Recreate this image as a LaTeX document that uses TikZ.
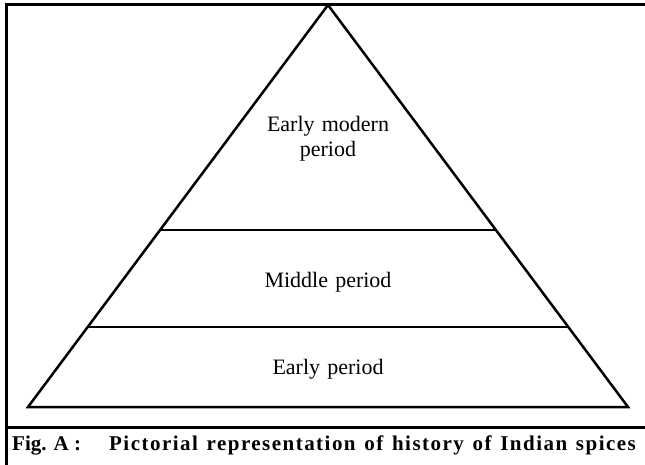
\documentclass[tikz,border=0pt]{standalone}
\usepackage{fontspec}
\setmainfont{Liberation Serif}
\newfontfamily\labelfont[WordSpace=1.3]{Liberation Serif}
\newfontfamily\capfont[LetterSpace=7,WordSpace=1.3]{Liberation Serif}
\usetikzlibrary{calc}
\usetikzlibrary{positioning}

\begin{document}
\begin{tikzpicture}[x=1pt,y=-1pt]
			\def\lw{2.5pt}

			\tikzset{line/.style={draw,line width=\lw}}
			\tikzset{frame/.style={draw,line width=3pt}}
			\tikzset{label/.style={inner sep=0pt,anchor=base,font=\labelfont\fontsize{22}{25}\selectfont,align=center}}
			\tikzset{caption/.style={inner sep=0pt,anchor=base west,font=\capfont\fontsize{21}{24}\selectfont\bfseries}}
			\tikzset{figtag/.style={inner sep=0pt,anchor=base west,font=\fontsize{21}{24}\selectfont\bfseries}}

			\useasboundingbox (0,0) rectangle (645,465);

			% pyramid corners
			\coordinate (apex) at (328,5);
			\coordinate (bl) at (28,407);
			\coordinate (br) at (628,407);

			% layer borders
			\coordinate (l1) at ($(apex)!0.5597!(bl)$);
			\coordinate (r1) at ($(apex)!0.5597!(br)$);
			\coordinate (l2) at ($(apex)!0.801!(bl)$);
			\coordinate (r2) at ($(apex)!0.801!(br)$);

			% frame
			\coordinate (ftl) at (6,5);
			\coordinate (ftr) at (645,5);
			\coordinate (fbl) at (6,465);
			\coordinate (fsl) at (6,427);
			\coordinate (fsr) at (645,427);

			\path[frame] (ftr) -- (ftl) -- (fbl);
			\path[frame] (fsl) to (fsr);

			\path[line,line join=miter] (bl) -- (apex) -- (br) -- cycle;
			\path[line] (l1) to (r1);
			\path[line] (l2) to (r2);

			\node[label] (modern) at (328,157) {Early modern\\period};
			\node[label] (middle) at (328,287) {Middle period};
			\node[label] (early) at (328,374) {Early period};

			\node[figtag] (fig) at (12,450) {Fig. A :};
			\node[caption] (title) at (109,450) {Pictorial representation of history of Indian spices};
		\end{tikzpicture}
\end{document}
